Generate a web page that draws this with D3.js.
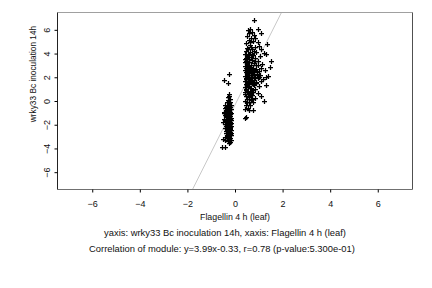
<!DOCTYPE html>
<meta charset="utf-8">
<style>
body {margin: 0; background: white;}
text {font-family: "Liberation Sans", Arial, sans-serif; fill: #111;}
.pt {stroke: black; stroke-width: 1.25px;}
.fit {stroke: #c8c8c8; stroke-width: 1px;}
</style>
<body>
<script src="https://d3js.org/d3.v7.min.js"></script>
<script>
var width = 432, height = 288
var xTicks = [-6, -4, -2, 0, 2, 4, 6]
var yTicks = [-6, -4, -2, 0, 2, 4, 6]
var xTitle = "Flagellin 4 h (leaf)"
var yTitle = "wrky33 Bc inoculation 14h"
var caption1 = "yaxis: wrky33 Bc inoculation 14h, xaxis: Flagellin 4 h (leaf)"
var caption2 = "Correlation of module: y=3.99x-0.33, r=0.78 (p-value:5.300e-01)"
var slope = 3.99, intercept = -0.33

// lower cluster
var clusterA = [
  [-0.27,0.62],[-0.24,0.45],[-0.3,0.3],[-0.22,0.2],[-0.28,0.05],[-0.2,-0.05],[-0.33,-0.12],[-0.25,-0.2],
  [-0.4,-0.3],[-0.18,-0.3],[-0.3,-0.38],[-0.36,-0.5],[-0.22,-0.5],[-0.28,-0.6],[-0.44,-0.62],[-0.17,-0.68],
  [-0.33,-0.75],[-0.25,-0.8],[-0.38,-0.88],[-0.2,-0.9],[-0.3,-0.98],[-0.48,-1.0],[-0.16,-1.05],[-0.35,-1.1],
  [-0.25,-1.15],[-0.42,-1.2],[-0.2,-1.25],[-0.3,-1.3],[-0.37,-1.38],[-0.15,-1.4],[-0.27,-1.45],[-0.45,-1.5],
  [-0.22,-1.52],[-0.33,-1.58],[-0.18,-1.62],[-0.39,-1.68],[-0.28,-1.7],[-0.24,-1.78],[-0.35,-1.82],[-0.16,-1.85],
  [-0.3,-1.9],[-0.42,-1.95],[-0.2,-1.98],[-0.26,-2.05],[-0.36,-2.1],[-0.17,-2.12],[-0.31,-2.18],[-0.23,-2.22],
  [-0.4,-2.28],[-0.19,-2.3],[-0.28,-2.35],[-0.34,-2.42],[-0.15,-2.45],[-0.25,-2.5],[-0.38,-2.52],[-0.21,-2.58],
  [-0.3,-2.62],[-0.17,-2.68],[-0.36,-2.7],[-0.26,-2.75],[-0.22,-2.82],[-0.33,-2.88],[-0.18,-2.9],[-0.28,-2.95],
  [-0.4,-3.0],[-0.24,-3.05],[-0.2,-3.12],[-0.35,-3.15],[-0.27,-3.2],[-0.44,-3.25],[-0.17,-3.28],[-0.3,-3.35],
  [-0.22,-3.42],[-0.26,-3.5],[-0.53,-3.85],[-0.43,-3.85],[-0.45,1.8],[-0.26,2.3],[-0.3,1.55],
  [-0.23,-0.35],[-0.31,-0.85],[-0.26,-1.6],[-0.33,-2.0],[-0.21,-2.4],[-0.29,-2.55],[-0.24,-2.7],[-0.31,-3.1],
  [-0.19,-1.75],[-0.36,-1.3],[-0.27,-0.05],[-0.2,-1.08],[-0.29,-1.22],[-0.23,-1.95],[-0.34,-2.3],[-0.19,-2.6],
  [-0.26,-3.3],[-0.5,-3.2],[-0.46,-0.9],[-0.5,-1.75]
]
// upper cluster
var clusterB = [
  [0.8,6.85],[0.55,5.95],[0.64,6.05],[0.97,6.05],[1.08,5.72],[0.72,5.85],[0.6,5.7],[0.78,5.6],
  [0.5,5.45],[0.68,5.35],[0.85,5.3],[0.58,5.15],[0.75,5.05],[0.95,4.95],[0.45,4.85],[0.63,4.75],
  [1.36,4.82],[1.0,4.6],[0.82,4.55],[0.52,4.5],[0.7,4.4],[1.1,4.35],[0.48,4.2],[0.62,4.15],
  [0.9,4.1],[1.2,4.05],[1.32,3.95],[0.42,3.95],[0.56,3.9],[0.75,3.85],[1.05,3.8],[0.66,3.72],
  [0.45,3.65],[0.85,3.6],[0.52,3.5],[0.7,3.45],[1.52,3.4],[0.95,3.38],[0.41,3.3],[0.6,3.25],
  [0.78,3.2],[1.15,3.15],[0.5,3.1],[0.68,3.05],[0.88,3.0],[1.45,2.9],[0.44,2.95],[0.57,2.85],
  [0.74,2.8],[1.1,2.75],[0.62,2.7],[0.4,2.65],[0.82,2.6],[0.52,2.55],[1.25,2.62],[0.7,2.5],
  [0.45,2.42],[0.92,2.45],[0.6,2.35],[1.38,2.1],[1.3,2.05],[0.78,2.3],[0.5,2.25],[0.66,2.18],
  [1.05,2.2],[0.43,2.1],[0.85,2.05],[0.56,2.0],[0.72,1.95],[1.18,1.85],[0.95,1.9],[0.48,1.85],
  [0.62,1.8],[0.8,1.75],[1.08,1.7],[0.4,1.7],[0.54,1.6],[0.7,1.55],[1.31,1.38],[0.9,1.5],
  [0.46,1.45],[0.6,1.4],[0.78,1.32],[1.0,1.25],[0.42,1.2],[0.55,1.15],[0.68,1.08],[0.86,1.05],
  [0.48,0.95],[0.62,0.88],[0.75,0.8],[0.4,0.75],[0.95,0.7],[0.55,0.6],[0.7,0.52],[0.45,0.42],
  [1.1,0.38],[0.6,0.3],[0.82,0.25],[0.5,0.15],[0.68,0.08],[1.2,0.0],[0.42,0.0],[0.58,-0.1],
  [0.75,-0.12],[0.47,-0.3],[0.65,-0.35],[0.55,-0.55],[0.43,-0.68],[0.76,-0.75],[0.6,-0.8],[0.48,-1.37],
  [0.4,-1.45],[0.5,3.75],[0.6,3.55],[0.46,3.4],[0.55,3.0],[0.65,2.9],[0.48,2.75],[0.58,2.6],
  [0.75,2.62],[0.66,2.4],[0.53,2.15],[0.6,2.05],[0.7,2.2],[0.8,2.15],[0.45,1.95],[0.58,1.88],
  [0.68,1.65],[0.5,1.55],[0.74,1.4],[0.58,1.25],[0.46,1.05],[0.72,0.95],[0.52,0.8],[0.66,0.7],
  [0.44,0.55],[0.58,0.45],[0.72,0.2],[0.52,-0.05],[0.62,4.95],[0.68,4.55],[0.55,4.35],[0.8,4.2],
  [0.72,4.0],[0.6,3.98],[0.85,3.35],[0.98,3.05],[0.9,2.72],[1.0,2.5],[0.92,2.25],[0.88,1.62],
  [1.02,2.0],[0.42,3.55],[0.52,2.9],[0.5,2.35],[0.64,2.55],[0.56,1.72]
]

var mLeft = 57.5, mRight = 412.5, mTop = 12.5, mBottom = 189.5
var x = d3.scaleLinear().domain([-7.46, 7.46]).range([mLeft, mRight])
var y = d3.scaleLinear().domain([-7.46, 7.46]).range([mBottom, mTop])

var svg = d3.select("body").append("svg")
  .attr("width", width).attr("height", height)

// fitted line, clipped to the plot box
svg.append("clipPath").attr("id", "box")
  .append("rect").attr("x", mLeft).attr("y", mTop)
  .attr("width", mRight - mLeft).attr("height", mBottom - mTop)
svg.append("line").attr("class", "fit").attr("clip-path", "url(#box)")
  .attr("x1", x(-3)).attr("y1", y(slope * -3 + intercept))
  .attr("x2", x(3)).attr("y2", y(slope * 3 + intercept))

var pts = clusterA.concat(clusterB)
var s = 2.5
svg.append("g").selectAll("path").data(pts).enter().append("path")
  .attr("class", "pt")
  .attr("d", function(d) {
    var cx = Math.round(x(d[0])) + 0.5, cy = Math.round(y(d[1])) + 0.5
    return "M" + (cx - s) + "," + cy + "H" + (cx + s) + "M" + cx + "," + (cy - s) + "V" + (cy + s)
  })

// box edges
svg.append("line").attr("x1", mLeft).attr("x2", mRight).attr("y1", mTop).attr("y2", mTop)
  .attr("stroke", "#a0a0a0")
svg.append("line").attr("x1", mRight).attr("x2", mRight).attr("y1", mTop).attr("y2", mBottom)
  .attr("stroke", "#505050")
svg.append("line").attr("x1", mLeft).attr("x2", mRight).attr("y1", mBottom).attr("y2", mBottom)
  .attr("stroke", "#707070")
svg.append("line").attr("x1", mLeft).attr("x2", mLeft).attr("y1", mTop).attr("y2", mBottom)
  .attr("stroke", "#222")

var xAxis = svg.append("g").attr("transform", "translate(0," + mBottom + ")")
  .call(d3.axisBottom(x).tickValues(xTicks).tickSize(3).tickSizeOuter(0).tickPadding(8))
xAxis.select(".domain").remove()
xAxis.selectAll("text").attr("font-size", 9).attr("font-family", null)

var yAxis = svg.append("g").attr("transform", "translate(" + mLeft + ",0)")
  .call(d3.axisLeft(y).tickValues(yTicks).tickSize(3).tickSizeOuter(0))
yAxis.select(".domain").remove()
yAxis.selectAll("text").attr("font-size", 9).attr("font-family", null)
  .attr("transform", "translate(-8,0) rotate(-90)")
  .attr("x", 0).attr("y", 0).attr("dy", 0).attr("text-anchor", "middle")

svg.append("text").attr("x", 235).attr("y", 219.5).attr("text-anchor", "middle")
  .attr("font-size", 8.8).text(xTitle)
svg.append("text").attr("transform", "translate(36,74) rotate(-90)")
  .attr("text-anchor", "middle").attr("font-size", 8.3).text(yTitle)
svg.append("text").attr("x", 225).attr("y", 235.5).attr("text-anchor", "middle")
  .attr("font-size", 9.4).text(caption1)
svg.append("text").attr("x", 222).attr("y", 251.5).attr("text-anchor", "middle")
  .attr("font-size", 9.4).text(caption2)
</script>
